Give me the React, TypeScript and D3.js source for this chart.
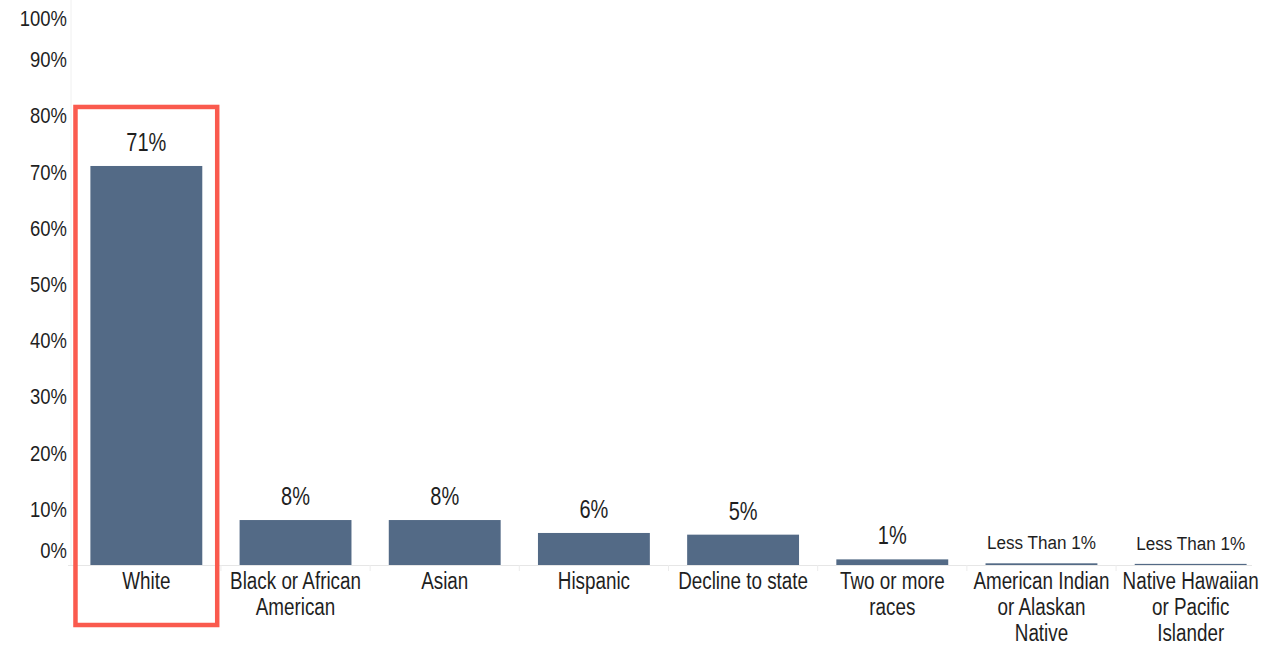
import React from "react";
import * as d3 from "d3";

const categories = [
  "White",
  "Black or African\nAmerican",
  "Asian",
  "Hispanic",
  "Decline to state",
  "Two or more\nraces",
  "American Indian\nor Alaskan\nNative",
  "Native Hawaiian\nor Pacific\nIslander",
];
const values = [71, 8, 8, 5.7, 5.4, 1, 0.3, 0.2];
const valueLabels = ["71%", "8%", "8%", "6%", "5%", "1%", "Less Than 1%", "Less Than 1%"];
const yTicks = [0, 10, 20, 30, 40, 50, 60, 70, 80, 90, 100];
const highlighted = "White";

const W = 1286;
const H = 646;
const FONT = "'Liberation Sans', Arial, Helvetica, sans-serif";
const BAR = "#536a86";
const TEXT = "#1f1f1f";
const RED = "#fa5a4e";
const SX = 0.8;

export default function App() {
  const x = d3
    .scaleBand<string>()
    .domain(categories)
    .range([71, 1266])
    .paddingInner(0.25)
    .paddingOuter(0.13);
  const y = d3.scaleLinear().domain([0, 100]).range([565, 3]);
  const baseY = y(0);
  const step = x.step();
  const bw = x.bandwidth();

  const hx = (x(highlighted) as number) - step * 0.1;
  const hw = bw + step * 0.2;
  const hTop = y(81.5);
  const hBottom = 625;

  return (
    <svg
      width={W}
      height={H}
      style={{ position: "absolute", left: 0, top: 0, background: "#fff" }}
      fontFamily={FONT}
    >
      <line x1={71} x2={71} y1={0} y2={baseY} stroke="#f0f0f0" strokeWidth={1} />
      <line x1={68} x2={1252} y1={baseY + 0.5} y2={baseY + 0.5} stroke="#e6e6e6" strokeWidth={1} />
      {categories.slice(1).map((c) => {
        const sx = (x(c) as number) - (step - bw) / 2;
        return (
          <line key={"sep" + c} x1={sx} x2={sx} y1={baseY} y2={baseY + 6} stroke="#ececec" strokeWidth={1} />
        );
      })}
      {yTicks.map((t) => {
        const cy = Math.min(Math.max(y(t), 18), 550);
        return (
          <text
            key={"yt" + t}
            transform={`translate(67,${cy + 8}) scale(${SX + 0.04},1)`}
            textAnchor="end"
            fontSize={22}
            fill={TEXT}
          >
            {t + "%"}
          </text>
        );
      })}
      {categories.map((c, i) => {
        const top = y(values[i]);
        return (
          <rect
            key={"bar" + i}
            x={x(c)}
            y={top}
            width={bw}
            height={Math.max(baseY - top, 1)}
            fill={BAR}
          />
        );
      })}
      {categories.map((c, i) => {
        const cx = (x(c) as number) + bw / 2;
        const small = valueLabels[i].length > 4;
        return (
          <text
            key={"vl" + i}
            transform={`translate(${cx},${y(values[i]) - (small ? 14 : 15)}) scale(${small ? 0.9 : SX},1)`}
            textAnchor="middle"
            fontSize={small ? 19 : 25}
            fill={TEXT}
          >
            {valueLabels[i]}
          </text>
        );
      })}
      {categories.map((c, i) => {
        const cx = (x(c) as number) + bw / 2;
        return c.split("\n").map((line, j) => (
          <text
            key={"cl" + i + "-" + j}
            transform={`translate(${cx},${baseY + 24 + j * 26}) scale(${SX + 0.02},1)`}
            textAnchor="middle"
            fontSize={23}
            fill={TEXT}
          >
            {line}
          </text>
        ));
      })}
      <rect
        x={hx}
        y={hTop}
        width={hw}
        height={hBottom - hTop}
        fill="none"
        stroke={RED}
        strokeWidth={4.5}
      />
    </svg>
  );
}
